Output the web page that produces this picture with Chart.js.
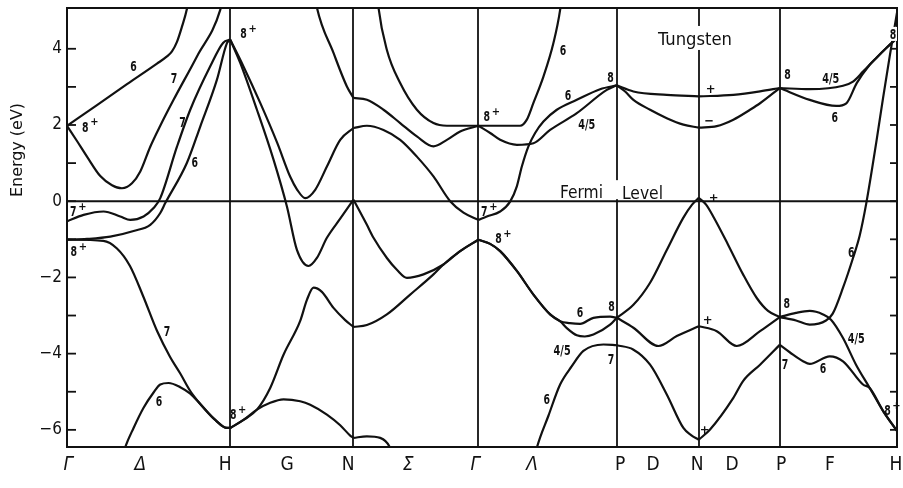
<!DOCTYPE html>
<html>
<head>
<meta charset="utf-8">
<title>Tungsten band structure</title>
<script src="https://cdn.jsdelivr.net/npm/chart.js@4.4.1/dist/chart.umd.min.js"></script>
<style>
  html, body { margin: 0; padding: 0; background: #fff; }
  #wrap { width: 903px; height: 488px; }
</style>
</head>
<body>
<div id="wrap"><canvas id="bands" width="903" height="488"></canvas></div>
<script>
// ---- k-path (path-length units) and axis labels ----
const symmetryK = [0, 163.3, 286.6, 411.6, 550, 632, 713, 830.3];        // Γ H N Γ P N P H
const pathLabels = ['Γ', 'Δ', 'H', 'G', 'N', 'Σ', 'Γ', 'Λ', 'P', 'D', 'N', 'D', 'P', 'F', 'H'];
const pathLabelK = [1.3, 73.3, 158.3, 220.3, 281.3, 341.3, 408.3, 465.3, 553.3, 586.3, 630.3, 665.3, 714.3, 763.3, 829.3];
const energyTicks = [-6, -4, -2, 0, 2, 4];
const energyMin = -6.45, energyMax = 5.07;

// ---- energy bands, [k, E in eV] ----
// Γ – H (Δ)
const gammaH_6up  = [[0,1.98],[30,2.52],[60,3.07],[90,3.61],[100,3.80],[105,3.93],[110,4.18],[115,4.58],[120,5.05],[122,5.35]];
const gammaH_7up  = [[0,1.98],[10,1.58],[20,1.17],[33.3,0.66],[45,0.42],[55,0.34],[65,0.47],[73.3,0.78],[83.3,1.43],[93.3,1.98],[106.6,2.66],[130,3.80],[153.3,5.02],[156,5.35]];
const gammaH_7p   = [[0,-0.53],[16.6,-0.36],[36.6,-0.27],[53.3,-0.40],[63.3,-0.49],[76.6,-0.40],[86.6,-0.18],[93.3,0.08],[110,1.43],[123.3,2.40],[143.3,3.54],[156.3,4.16],[163.3,4.24]];
const gammaH_8p   = [[0,-1.01],[20,-0.99],[43.3,-0.93],[66.6,-0.78],[83.3,-0.62],[93.3,-0.31],[98.3,-0.05],[120,1.01],[133.3,1.96],[150,3.19],[160,4.15],[163.3,4.24]];
const gammaH_7low = [[0,-1.01],[36.3,-1.04],[50,-1.24],[63,-1.70],[76.3,-2.50],[90,-3.40],[103,-4.08],[113.3,-4.52],[123.3,-4.98],[133.3,-5.32],[148.3,-5.74],[160,-5.95],[163.3,-5.95]];
const gammaH_6low = [[55.5,-6.7],[58.3,-6.45],[66.6,-5.95],[76.6,-5.42],[86.6,-5.02],[93.3,-4.81],[101.6,-4.77],[113.3,-4.88],[123.3,-5.05],[133.3,-5.32],[148.3,-5.74],[160,-5.95],[163.3,-5.95]];
// H – N (G)
const hN_upper  = [[163.3,4.24],[176.3,3.55],[193.3,2.58],[210.3,1.53],[223.3,0.64],[230.3,0.30],[238.3,0.08],[248.3,0.30],[260,0.91],[273.3,1.61],[286.6,1.92]];
const hN_lower  = [[163.3,4.24],[173.3,3.63],[190,2.40],[206.6,1.09],[220,-0.14],[230,-1.28],[241.6,-1.70],[250,-1.49],[260,-0.96],[273.3,-0.46],[286.6,0.04]];
const hN_top    = [[248,5.4],[250,5.08],[266.6,3.89],[280,3.01],[286.6,2.71]];
const hN_peak   = [[163.3,-5.95],[176.6,-5.74],[190,-5.47],[203.3,-4.90],[216.6,-4.03],[233.3,-3.14],[240,-2.59],[246.6,-2.27],[255,-2.38],[266.6,-2.80],[278.3,-3.12],[286.6,-3.30]];
const hN_flat   = [[163.3,-5.95],[176.6,-5.74],[190,-5.47],[203.3,-5.29],[216.6,-5.20],[233.3,-5.25],[243.3,-5.34],[260,-5.60],[273.3,-5.88],[283.3,-6.15],[286.6,-6.21]];
// N – Γ (Σ)
const nGamma_a  = [[286.6,2.71],[300,2.66],[316.6,2.40],[333.3,2.05],[350,1.70],[366.6,1.44],[380,1.61],[393.3,1.83],[411.6,1.98]];
const nGamma_b  = [[310.5,5.4],[311.6,5.08],[320,3.97],[333.3,3.10],[350,2.40],[366.6,2.05],[380,1.98],[411.6,1.98]];
const nGamma_c  = [[286.6,1.92],[300,1.98],[316.6,1.87],[333.3,1.61],[350,1.17],[366.6,0.65],[383.3,0.0],[396.6,-0.30],[411.6,-0.49]];
const nGamma_d  = [[286.6,0.04],[300,-0.62],[306.6,-0.96],[320,-1.49],[330,-1.80],[340,-2.01],[356.6,-1.92],[376.6,-1.66],[393.3,-1.31],[411.6,-1.01]];
const nGamma_e  = [[286.6,-3.30],[300,-3.25],[320,-2.97],[343.3,-2.45],[366.6,-1.92],[376.6,-1.66],[393.3,-1.31],[411.6,-1.01]];
const nGamma_f  = [[286.6,-6.21],[300,-6.17],[313.3,-6.21],[323.3,-6.47],[326,-6.7]];
// Γ – P (Λ)
const gammaP_6top = [[411.6,1.98],[433.3,1.98],[453.3,1.98],[460,2.14],[466.6,2.58],[476.6,3.27],[486.6,4.15],[493.3,5.02],[495,5.4]];
const gammaP_45up = [[411.6,1.98],[423.3,1.79],[433.3,1.61],[450,1.48],[466.6,1.52],[483.3,1.87],[510,2.31],[540,2.92],[550,3.04]];
const gammaP_6up  = [[411.6,-0.49],[420,-0.40],[433.3,-0.27],[443.3,-0.01],[450,0.39],[455,0.91],[461.6,1.44],[468.3,1.79],[476.6,2.09],[490,2.40],[510,2.66],[533.3,2.94],[550,3.04]];
const gammaP_6mid = [[411.6,-1.01],[423.3,-1.12],[433.3,-1.31],[450,-1.83],[466.6,-2.45],[483.3,-2.97],[493.3,-3.15],[503,-3.20],[513.3,-3.22],[526.6,-3.06],[543.3,-3.03],[550,-3.06]];
const gammaP_45low= [[411.6,-1.01],[423.3,-1.12],[433.3,-1.31],[450,-1.83],[466.6,-2.45],[483.3,-2.97],[493.3,-3.15],[500,-3.33],[510,-3.52],[518,-3.55],[526.6,-3.50],[543.3,-3.24],[550,-3.06]];
const gammaP_6low = [[468,-6.7],[470,-6.47],[481.6,-5.63],[493.3,-4.81],[505,-4.33],[516.6,-3.93],[536.6,-3.76],[550,-3.78]];
// P – N – P (D)
const pN_plus  = [[550,3.04],[566.6,2.88],[600,2.79],[632,2.75]];
const pN_minus = [[550,3.04],[558.3,2.88],[566.6,2.66],[583.3,2.40],[600,2.18],[616.6,2.01],[632,1.93]];
const pN_a     = [[550,-3.06],[566.6,-2.72],[583.3,-2.14],[600,-1.28],[616.6,-0.43],[625.3,-0.09],[632,0.09]];
const pN_b     = [[550,-3.06],[566.6,-3.32],[591.6,-3.80],[610,-3.54],[632,-3.28]];
const pN_c     = [[550,-3.78],[566.3,-3.89],[583.3,-4.29],[600,-5.07],[616.6,-5.95],[624.3,-6.14],[632,-6.26]];
const nP_plus  = [[632,2.75],[666.6,2.79],[693.3,2.88],[713,2.97]];
const nP_minus = [[632,1.93],[650,1.97],[666.6,2.14],[683.3,2.40],[693.3,2.57],[713,2.97]];
const nP_a     = [[632,0.09],[639.3,-0.09],[647.3,-0.44],[661.3,-1.14],[676.3,-1.92],[690,-2.54],[701.3,-2.88],[713,-3.04]];
const nP_b     = [[632,-3.28],[650,-3.41],[670,-3.80],[693.3,-3.41],[713,-3.04]];
const nP_c     = [[632,-6.26],[643.3,-5.99],[666.6,-5.16],[676.3,-4.72],[693.3,-4.29],[713,-3.77]];
// P – H (F)
const pH_45up  = [[713,2.97],[743,2.94],[776.3,3.03],[786.3,3.14],[796.3,3.40],[809.6,3.76],[819.6,4.02],[830.3,4.28]];
const pH_6up   = [[713,2.97],[743,2.66],[769.6,2.50],[779.6,2.57],[790,3.10],[803,3.58],[809.6,3.76],[819.6,4.02],[830.3,4.28]];
const pH_6steep= [[713,-3.04],[729.3,-3.13],[743,-3.24],[759.3,-3.13],[766,-2.95],[776.3,-2.27],[786.3,-1.49],[793,-0.90],[799.6,-0.05],[809.6,1.55],[816.3,2.70],[823,3.80],[830.3,4.95]];
const pH_45low = [[713,-3.04],[729.3,-2.93],[743,-2.88],[756.3,-2.97],[764.3,-3.11],[776.3,-3.59],[789.3,-4.29],[803,-4.90],[816.3,-5.50],[830.3,-6.03]];
const pH_6low  = [[713,-3.77],[723.3,-3.97],[736.3,-4.20],[743,-4.27],[763,-4.07],[776.3,-4.20],[796.3,-4.81],[803,-4.90],[816.3,-5.50],[830.3,-6.03]];

const bands = [
  gammaH_6up, gammaH_7up, gammaH_7p, gammaH_8p, gammaH_7low, gammaH_6low,
  hN_upper, hN_lower, hN_top, hN_peak, hN_flat,
  nGamma_a, nGamma_b, nGamma_c, nGamma_d, nGamma_e, nGamma_f,
  gammaP_6top, gammaP_45up, gammaP_6up, gammaP_6mid, gammaP_45low, gammaP_6low,
  pN_plus, pN_minus, pN_a, pN_b, pN_c,
  nP_plus, nP_minus, nP_a, nP_b, nP_c,
  pH_45up, pH_6up, pH_6steep, pH_45low, pH_6low
];

// ---- symmetry labels of the bands: [text, superscript, k, E] ----
const bandLabels = [
  ['6','',66.6,3.54], ['7','',107,3.23], ['7','',115.5,2.09], ['6','',127.8,1.04],
  ['8','+',18.3,1.96], ['7','+',6.3,-0.25], ['8','+',6.8,-1.30],
  ['7','',100,-3.41], ['6','',92.1,-5.25],
  ['8','+',176.6,4.42], ['8','+',166.3,-5.58],
  ['8','+',420,2.24], ['7','+',417.5,-0.27], ['8','+',431.6,-0.96],
  ['6','',496.3,3.97], ['6','',501.1,2.78], ['4/5','',520,2.03], ['8','',543.6,3.27],
  ['6','',513.3,-2.92], ['4/5','',495.3,-3.91], ['6','',480,-5.20],
  ['8','',544.6,-2.75], ['7','',544.1,-4.14],
  ['+','',638,-6.01], ['+','',640.8,-3.14], ['+','',647,0.07], ['+','',643.8,2.94], ['−','',642.5,2.09],
  ['8','',720.8,3.34], ['4/5','',764.1,3.22], ['6','',768,2.20], ['6','',784.6,-1.32],
  ['8','',720,-2.67], ['7','',718.3,-4.27], ['6','',756.3,-4.38], ['4/5','',789.6,-3.58],
  ['8','+',820.8,-5.47]
];

const INK = '#111';
const textFamily = "'DejaVu Sans Condensed', 'Liberation Sans Narrow', 'DejaVu Sans', sans-serif";

function seg(ctx, x1, y1, x2, y2) {
  ctx.beginPath(); ctx.moveTo(x1, y1); ctx.lineTo(x2, y2); ctx.stroke();
}

// text squeezed horizontally to a target width (the plot uses a condensed face)
function fittedText(ctx, txt, cx, baseY, font, width, align) {
  ctx.save();
  ctx.font = font;
  const w = ctx.measureText(txt).width;
  const s = width ? width / w : 0.8;
  ctx.translate(cx, baseY);
  ctx.scale(s, 1);
  ctx.textAlign = align || 'center';
  ctx.textBaseline = 'alphabetic';
  ctx.fillText(txt, 0, 0);
  ctx.restore();
  return w * s;
}

const decorations = {
  id: 'decorations',
  beforeDatasetsDraw(chart) {
    const { ctx, chartArea: a, scales: { x, y } } = chart;
    ctx.save();
    ctx.strokeStyle = INK;
    ctx.lineWidth = 1.8;
    symmetryK.forEach(k => {
      const px = Math.round(x.getPixelForValue(k));
      seg(ctx, px, a.top, px, a.bottom);
    });
    ctx.lineWidth = 2;
    const y0 = y.getPixelForValue(0);
    seg(ctx, a.left, y0, a.right, y0);
    ctx.lineWidth = 1.8;
    for (let e = -6; e <= 4; e++) {
      const py = y.getPixelForValue(e);
      seg(ctx, a.left, py, a.left + 9, py);
      seg(ctx, a.right - 7, py, a.right, py);
    }
    ctx.restore();
  },
  afterDatasetsDraw(chart) {
    const { ctx, chartArea: a, scales: { x, y } } = chart;
    ctx.save();
    // frame
    ctx.strokeStyle = INK;
    ctx.lineWidth = 2;
    ctx.strokeRect(a.left, a.top, a.right - a.left, a.bottom - a.top);

    ctx.fillStyle = INK;
    // Tungsten title, on a white patch over the N line
    const tx = x.getPixelForValue(628.2), ty = y.getPixelForValue(4.10);
    ctx.fillStyle = '#fff';
    ctx.fillRect(tx - 40, ty - 19, 80, 24);
    ctx.fillStyle = INK;
    fittedText(ctx, 'Tungsten', tx, ty, `18px ${textFamily}`, 74);

    // Fermi level caption
    const fx = x.getPixelForValue(514.7), lx = x.getPixelForValue(575.7);
    const fy = y.getPixelForValue(0.08), ly = y.getPixelForValue(0.06);
    ctx.fillStyle = '#fff';
    ctx.fillRect(fx - 25, fy - 18, (lx + 24) - (fx - 25), 19);
    ctx.fillStyle = INK;
    fittedText(ctx, 'Fermi', fx, fy, `18px ${textFamily}`, 43);
    fittedText(ctx, 'Level', lx, ly, `18px ${textFamily}`, 41);

    // white patch behind the corner label at H
    const cx = x.getPixelForValue(826.3), cy = y.getPixelForValue(4.39);
    ctx.fillStyle = '#fff';
    ctx.fillRect(cx - 5, cy - 7, 9, 14);
    ctx.fillStyle = INK;
    fittedText(ctx, '8', cx, cy + 5, `bold 14px ${textFamily}`, 6.5);

    // band symmetry labels
    bandLabels.forEach(([t, sup, k, e]) => {
      const px = x.getPixelForValue(k), py = y.getPixelForValue(e);
      if (t === '+' || t === '−') {
        ctx.save();
        ctx.font = `bold 13px ${textFamily}`;
        ctx.textAlign = 'center'; ctx.textBaseline = 'middle';
        ctx.fillText(t, px, py);
        ctx.restore();
      } else {
        const width = t.length === 1 ? 6.5 : 17;
        fittedText(ctx, t, px, py + 5, `bold 14px ${textFamily}`, width);
      }
      if (sup) {
        ctx.save();
        ctx.font = `bold 11px ${textFamily}`;
        ctx.textAlign = 'center'; ctx.textBaseline = 'middle';
        ctx.fillText(sup, px + 9, py - 4);
        ctx.restore();
      }
    });

    // energy axis title
    ctx.save();
    ctx.translate(17.5, 150);
    ctx.rotate(-Math.PI / 2);
    ctx.font = `16px ${textFamily}`;
    const w = ctx.measureText('Energy (eV)').width;
    ctx.scale(94 / w, 1);
    ctx.textAlign = 'center'; ctx.textBaseline = 'middle';
    ctx.fillText('Energy (eV)', 0, 0);
    ctx.restore();

    ctx.restore();
  }
};

const greek = new Set(['Γ', 'Δ', 'Σ', 'Λ']);

new Chart(document.getElementById('bands'), {
  type: 'line',
  data: {
    datasets: bands.map(b => ({
      data: b.map(([k, e]) => ({ x: k, y: e })),
      borderColor: INK,
      borderWidth: 2.2,
      pointRadius: 0,
      fill: false,
      cubicInterpolationMode: 'monotone'
    }))
  },
  options: {
    responsive: false,
    animation: false,
    devicePixelRatio: 1,
    layout: { padding: { top: 8, right: 6, left: 0, bottom: 0 } },
    plugins: { legend: { display: false }, tooltip: { enabled: false } },
    scales: {
      x: {
        type: 'linear',
        min: 0,
        max: 830.3,
        grid: { display: false, drawTicks: false },
        border: { display: false },
        afterBuildTicks: axis => { axis.ticks = pathLabelK.map(v => ({ value: v })); },
        afterFit: axis => { axis.height = 41; axis.paddingLeft = 0; axis.paddingRight = 0; },
        ticks: {
          autoSkip: false,
          maxRotation: 0,
          padding: 7,
          color: INK,
          callback: (v, i) => pathLabels[i],
          font: c => ({
            family: textFamily,
            size: 19,
            style: greek.has(pathLabels[c.index]) ? 'italic' : 'normal'
          })
        }
      },
      y: {
        type: 'linear',
        min: energyMin,
        max: energyMax,
        grid: { display: false, drawTicks: false },
        border: { display: false },
        afterBuildTicks: axis => { axis.ticks = energyTicks.map(v => ({ value: v })); },
        afterFit: axis => { axis.width = 67; axis.paddingTop = 0; axis.paddingBottom = 0; },
        ticks: {
          padding: 5,
          color: INK,
          font: { family: textFamily, size: 17 },
          callback: v => (v < 0 ? '−' + Math.abs(v) : String(v))
        }
      }
    }
  },
  plugins: [decorations]
});
</script>
</body>
</html>
